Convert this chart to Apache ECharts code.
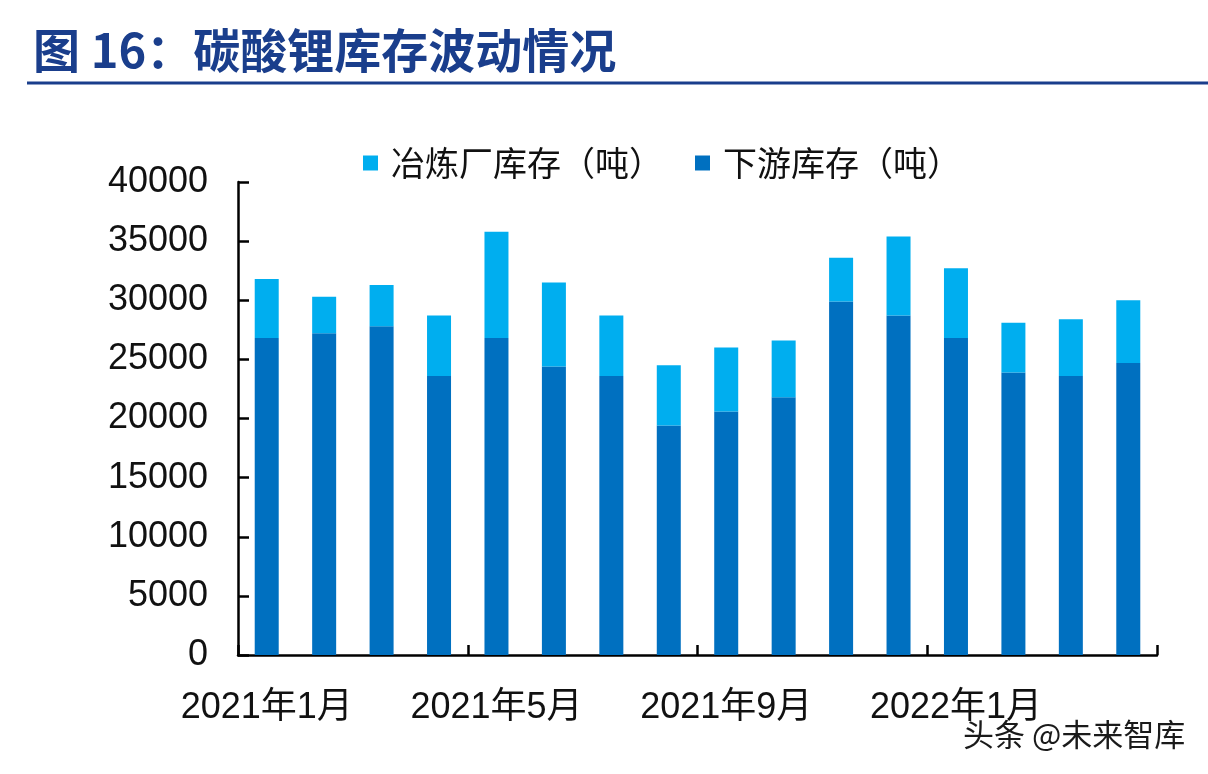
<!DOCTYPE html>
<html>
<head>
<meta charset="utf-8">
<script src="https://cdn.jsdelivr.net/npm/echarts@6/dist/echarts.min.js"></script>
<style>
html,body{margin:0;padding:0;background:#fff;}
#c{width:1208px;height:774px;}
</style>
</head>
<body>
<div id="c"></div>
<script>
var categories = ['2021年1月','2021年2月','2021年3月','2021年4月','2021年5月','2021年6月','2021年7月','2021年8月','2021年9月','2021年10月','2021年11月','2021年12月','2022年1月','2022年2月','2022年3月','2022年4月'];
var smelterStock = [5000,3100,3500,5100,9000,7100,5100,5100,5400,4800,3700,6700,5900,4200,4800,5300];
var downstreamStock = [26800,27200,27800,23600,26800,24400,23600,19400,20600,21800,29900,28700,26800,23900,23600,24700];
var yTicks = {min:0, max:40000, interval:5000};
var titleText = '图 16：碳酸锂库存波动情况';
var seriesNames = ['冶炼厂库存（吨）','下游库存（吨）'];
var watermark = '头条 @未来智库';

var chart = echarts.init(document.getElementById('c'));
chart.setOption({
  backgroundColor:'#fff',
  animation:false,
  title:{
    text:titleText, left:28, top:22,
    textStyle:{fontFamily:'Noto Sans CJK SC', fontWeight:'bold', fontSize:47, color:'#1a3e8c'}
  },
  graphic:[
    {type:'line', shape:{x1:27,y1:83,x2:1208,y2:83}, style:{stroke:'#1a3e8c', lineWidth:3}},
    {type:'text', left:962, top:718, style:{text:watermark, font:'31px "Noto Sans CJK SC"', fill:'#1a1a1a', stroke:'#fff', lineWidth:2}}
  ],
  legend:{
    data:seriesNames, left:358, top:141, itemWidth:15, itemHeight:15, itemGap:32,
    icon:'rect',
    textStyle:{fontFamily:'Noto Sans CJK SC', fontSize:34, color:'#111', padding:[0,0,0,8]}
  },
  grid:{left:238, right:51, top:182, bottom:119, containLabel:false},
  xAxis:{
    type:'category', data:categories,
    axisLine:{lineStyle:{color:'#000', width:2.5}},
    axisTick:{show:true, inside:true, length:10, interval:3, lineStyle:{color:'#000', width:2.5}},
    axisLabel:{interval:3, margin:35, fontFamily:'Liberation Sans, Noto Sans CJK SC', fontSize:36, color:'#111'}
  },
  yAxis:{
    type:'value', min:yTicks.min, max:yTicks.max, interval:yTicks.interval,
    splitLine:{show:false},
    axisLine:{show:true, lineStyle:{color:'#000', width:2.5}},
    axisTick:{show:true, inside:true, length:11, lineStyle:{color:'#000', width:2.5}},
    axisLabel:{margin:30, fontFamily:'Liberation Sans', fontSize:36, color:'#111', formatter:function(v){return String(v);}}
  },
  series:[
    {name:seriesNames[1], type:'bar', stack:'s', data:downstreamStock, barWidth:24, itemStyle:{color:'#0070c0'}},
    {name:seriesNames[0], type:'bar', stack:'s', data:smelterStock, barWidth:24, itemStyle:{color:'#00aeef'}}
  ]
});
</script>
</body>
</html>
